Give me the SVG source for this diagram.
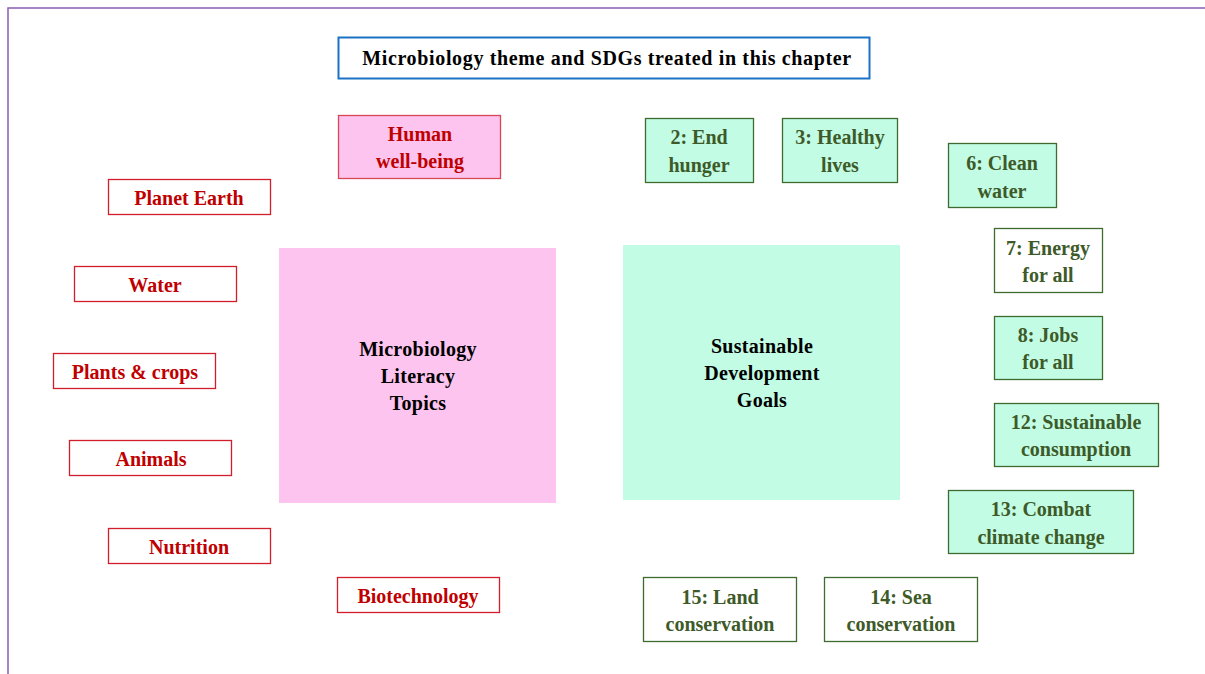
<svg xmlns="http://www.w3.org/2000/svg" width="1205" height="674" viewBox="0 0 1205 674">
<style>
text{font-family:"Liberation Serif","Times New Roman",serif;font-weight:bold;text-anchor:middle}
.red rect{fill:#fff;stroke:#d21e2c;stroke-width:1.3}
.red text{fill:#c00000;font-size:20px}
.grn rect{fill:#c2fce4;stroke:#3f6b2e;stroke-width:1.3}
.grn rect.w{fill:#fff}
.grn text{fill:#3d5a28;font-size:20px}
.big text{fill:#000;font-size:20px;letter-spacing:0.3px}
</style>
<rect x="8" y="8" width="1210" height="680" fill="none" stroke="#8c5cb4" stroke-width="1.5"/>
<g id="title">
<rect x="338.5" y="37.5" width="531" height="41" fill="#fff" stroke="#1a72c4" stroke-width="2"/>
<text x="607" y="65" font-size="20" fill="#000" letter-spacing="0.65">Microbiology theme and SDGs treated in this chapter</text>
</g>
<g id="mlt" class="big">
<rect x="279" y="248" width="277" height="255" fill="#fcc4ee"/>
<text x="418" y="356">Microbiology</text>
<text x="418" y="383">Literacy</text>
<text x="418" y="410">Topics</text>
</g>
<g id="sdg" class="big">
<rect x="623" y="245" width="277" height="255" fill="#c2fce4"/>
<text x="762" y="353">Sustainable</text>
<text x="762" y="380">Development</text>
<text x="762" y="407">Goals</text>
</g>
<g id="human" class="red">
<rect x="338.5" y="115.5" width="162" height="63" style="fill:#fcc4ee;stroke:#d94656"/>
<text x="420" y="141">Human</text>
<text x="420" y="168">well-being</text>
</g>
<g id="planet" class="red"><rect x="108.5" y="179.5" width="162" height="35"/><text x="189" y="205">Planet Earth</text></g>
<g id="water" class="red"><rect x="74.5" y="266.5" width="162" height="35"/><text x="155" y="292">Water</text></g>
<g id="plants" class="red"><rect x="53.5" y="353.5" width="162" height="35"/><text x="135" y="379">Plants &amp; crops</text></g>
<g id="animals" class="red"><rect x="69.5" y="440.5" width="162" height="35"/><text x="151" y="466">Animals</text></g>
<g id="nutrition" class="red"><rect x="108.5" y="528.5" width="162" height="35"/><text x="189" y="554">Nutrition</text></g>
<g id="biotech" class="red"><rect x="337.5" y="577.5" width="162" height="35"/><text x="418" y="603">Biotechnology</text></g>
<g id="sdg2" class="grn"><rect x="645.5" y="118.5" width="108" height="64"/><text x="699" y="144">2: End</text><text x="699" y="172">hunger</text></g>
<g id="sdg3" class="grn"><rect x="782.5" y="118.5" width="115" height="64"/><text x="840" y="144">3: Healthy</text><text x="840" y="172">lives</text></g>
<g id="sdg6" class="grn"><rect x="948.5" y="143.5" width="108" height="64"/><text x="1002" y="170">6: Clean</text><text x="1002" y="198">water</text></g>
<g id="sdg7" class="grn"><rect class="w" x="994.5" y="228.5" width="108" height="64"/><text x="1048" y="255">7: Energy</text><text x="1048" y="282">for all</text></g>
<g id="sdg8" class="grn"><rect x="994.5" y="316.5" width="108" height="63"/><text x="1048" y="342">8: Jobs</text><text x="1048" y="369">for all</text></g>
<g id="sdg12" class="grn"><rect x="994.5" y="403.5" width="164" height="63"/><text x="1076" y="429">12: Sustainable</text><text x="1076" y="456">consumption</text></g>
<g id="sdg13" class="grn"><rect x="948.5" y="490.5" width="185" height="63"/><text x="1041" y="516">13: Combat</text><text x="1041" y="544">climate change</text></g>
<g id="sdg15" class="grn"><rect class="w" x="643.5" y="577.5" width="153" height="64"/><text x="720" y="604">15: Land</text><text x="720" y="631">conservation</text></g>
<g id="sdg14" class="grn"><rect class="w" x="824.5" y="577.5" width="153" height="64"/><text x="901" y="604">14: Sea</text><text x="901" y="631">conservation</text></g>
<g id="connectors"></g>
</svg>
